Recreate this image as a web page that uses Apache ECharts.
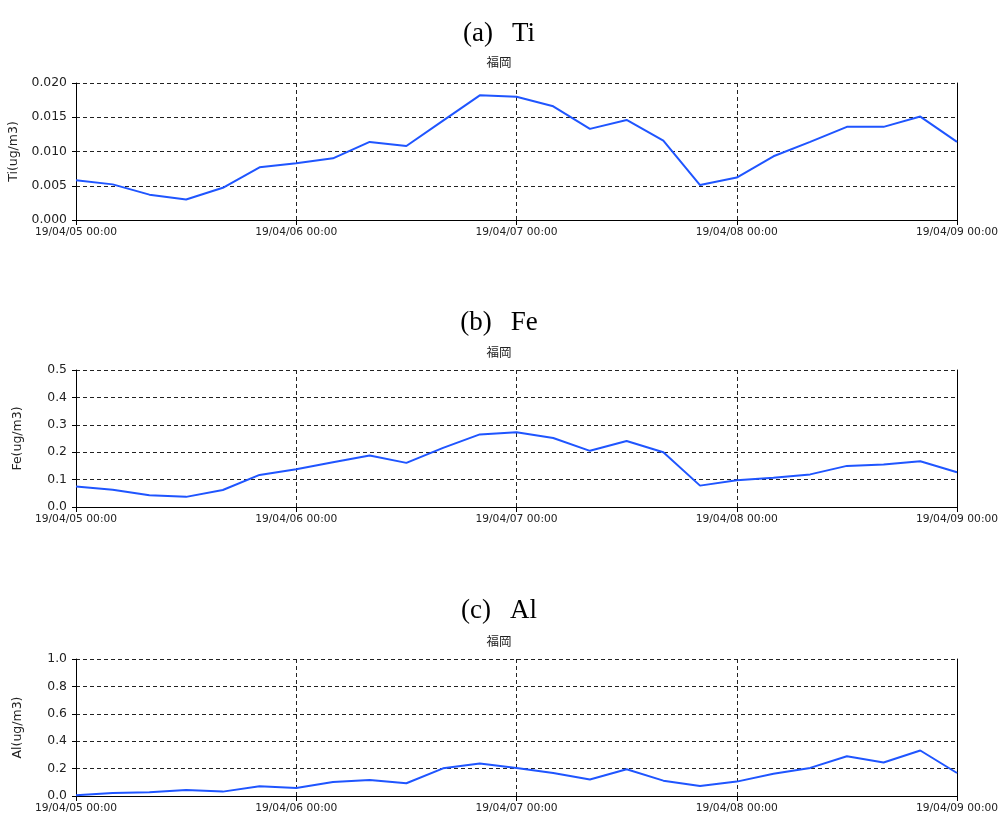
<!DOCTYPE html>
<html><head><meta charset="utf-8">
<script src="https://cdn.jsdelivr.net/npm/echarts@6/dist/echarts.min.js"></script>
<style>html,body{margin:0;padding:0;background:#fff}#c{width:998px;height:815px}</style>
</head><body><div id="c"></div>
<script>
const times = [
  "19/04/05 00:00","19/04/05 04:00","19/04/05 08:00","19/04/05 12:00","19/04/05 16:00","19/04/05 20:00",
  "19/04/06 00:00","19/04/06 04:00","19/04/06 08:00","19/04/06 12:00","19/04/06 16:00","19/04/06 20:00",
  "19/04/07 00:00","19/04/07 04:00","19/04/07 08:00","19/04/07 12:00","19/04/07 16:00","19/04/07 20:00",
  "19/04/08 00:00","19/04/08 04:00","19/04/08 08:00","19/04/08 12:00","19/04/08 16:00","19/04/08 20:00",
  "19/04/09 00:00"
];
const ti = [0.0058,0.0052,0.0037,0.0030,0.0047,0.0077,0.0083,0.0090,0.0114,0.0108,0.0145,0.0182,0.0180,0.0166,0.0133,0.0146,0.0116,0.0051,0.0062,0.0093,0.0114,0.0136,0.0136,0.0151,0.0114];
const fe = [0.075,0.063,0.043,0.037,0.062,0.117,0.138,0.163,0.188,0.161,0.216,0.265,0.273,0.252,0.205,0.241,0.200,0.078,0.098,0.107,0.119,0.150,0.155,0.167,0.127];
const al = [0.005,0.022,0.027,0.044,0.032,0.071,0.059,0.102,0.117,0.093,0.202,0.237,0.205,0.168,0.120,0.195,0.112,0.073,0.105,0.163,0.205,0.290,0.244,0.332,0.168];
const panelTitles = ["(a)\u2002\u2009Ti","(b)\u2002\u2009Fe","(c)\u2002\u2009Al"];
const stationName = "福岡";
const yNames = ["Ti(ug/m3)","Fe(ug/m3)","Al(ug/m3)"];
const yMax = [0.02,0.5,1.0];
const yStep = [0.005,0.1,0.2];
const yDecimals = [3,1,1];
const seriesData = [ti, fe, al];

const gridTops = [83, 370, 659];
const gridH = 137;
const titleTops = [15, 304, 592];
const subTops = [51, 341, 630];

const chart = echarts.init(document.getElementById('c'), null, {renderer:'canvas'});
const titles = [], grids = [], xAxes = [], yAxes = [], series = [];
const dash = {color:'#222', type:[4,3], width:1};
for (let i = 0; i < 3; i++) {
  titles.push({text: panelTitles[i], left: 'center', top: titleTops[i],
    textStyle:{fontFamily:'Liberation Serif', fontSize:27, fontWeight:'normal', color:'#000'}});
  titles.push({text: stationName, left: 'center', top: subTops[i],
    textStyle:{fontFamily:'Noto Sans CJK JP', fontSize:12.5, fontWeight:'normal', color:'#222'}});
  grids.push({left:76, right:41, top:gridTops[i], height:gridH, containLabel:false, outerBoundsMode:'none'});
  xAxes.push({type:'category', gridIndex:i, data:times, boundaryGap:false,
    axisLine:{show:true, onZero:false, lineStyle:{color:'#000', width:1}},
    axisTick:{show:true, interval:5, length:5, lineStyle:{color:'#000'}},
    axisLabel:{interval:5, margin:7, fontFamily:'DejaVu Sans', fontSize:10.7, color:'#222', showMaxLabel:true},
    splitLine:{show:true, interval:5, lineStyle:dash}});
  const dec = yDecimals[i];
  yAxes.push({type:'value', gridIndex:i, min:0, max:yMax[i], interval:yStep[i], position:'left',
    name: yNames[i], nameLocation:'middle', nameGap:52,
    nameTextStyle:{fontFamily:'DejaVu Sans', fontSize:12.5, color:'#222'},
    axisLine:{show:true, lineStyle:{color:'#000', width:1}},
    axisTick:{show:true, length:4, lineStyle:{color:'#000'}},
    axisLabel:{margin:9, fontFamily:'DejaVu Sans', fontSize:12.4, color:'#222', formatter:v=>v.toFixed(dec)},
    splitLine:{show:true, lineStyle:dash}});
  yAxes.push({type:'value', gridIndex:i, min:0, max:yMax[i], position:'right',
    axisLine:{show:true, lineStyle:{color:'#000', width:1}},
    axisTick:{show:false}, axisLabel:{show:false}, splitLine:{show:false}});
  series.push({type:'line', xAxisIndex:i, yAxisIndex:2*i, data:seriesData[i],
    symbol:'none', lineStyle:{color:'#1f55ff', width:2}, silent:true, animation:false});
}
chart.setOption({animation:false, backgroundColor:'#fff', title:titles, grid:grids, xAxis:xAxes, yAxis:yAxes, series:series});
</script>
</body></html>
